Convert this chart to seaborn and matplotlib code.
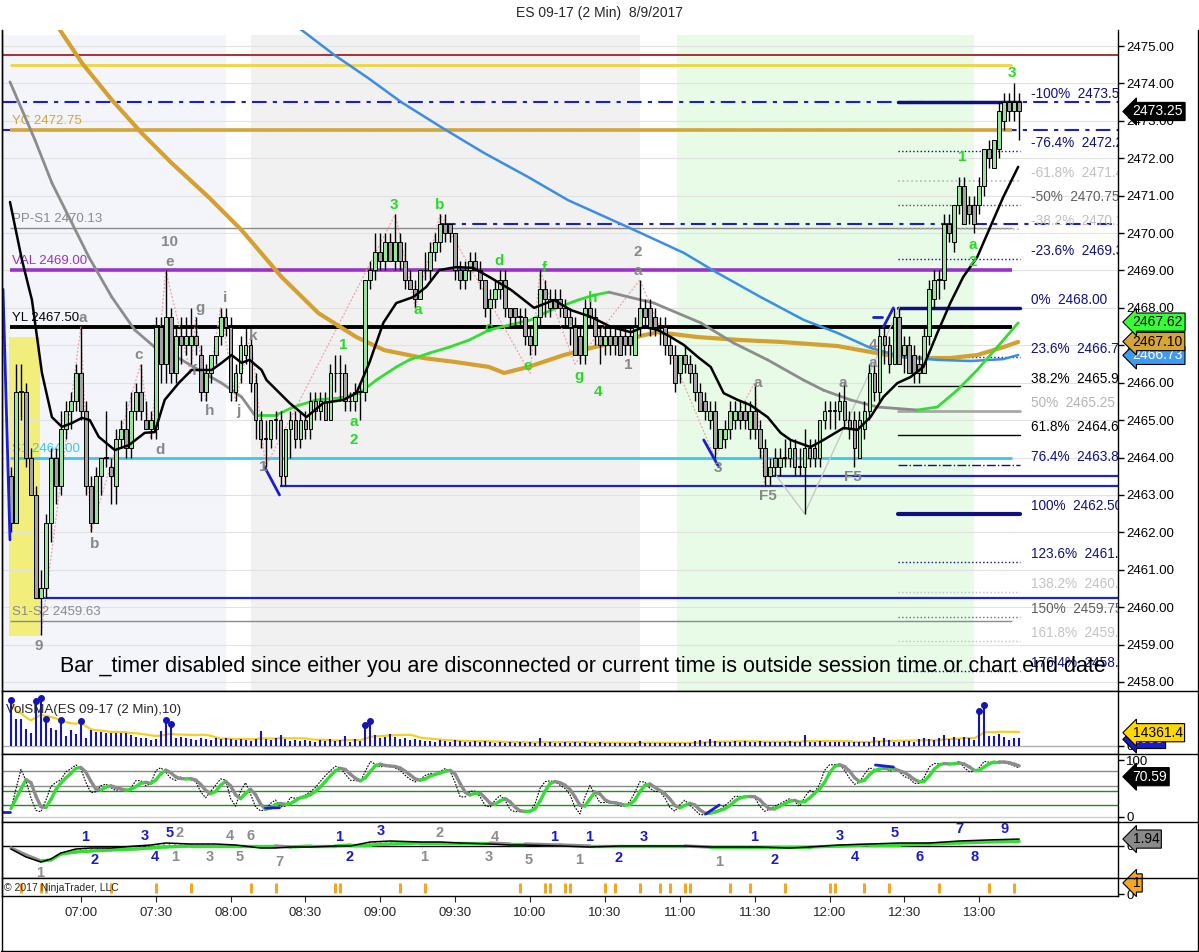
import numpy as np
import pandas as pd
import matplotlib
matplotlib.use("Agg")
import matplotlib.pyplot as plt
import seaborn as sns
from matplotlib.collections import LineCollection
from matplotlib.lines import Line2D
from matplotlib.transforms import blended_transform_factory

sns.set_style("white")
plt.rcParams['font.family'] = ['Liberation Sans', 'DejaVu Sans']
plt.rcParams['hatch.linewidth'] = 1.0

# ------------------------------------------------------------------ DATA
chart_title = "ES 09-17 (2 Min)  8/9/2017"
first_bar_time = "06:32"
bar_minutes = 2

bar_open = [
    2463.5, 2462.25, 2465.75, 2465.75, 2464.0, 2463.0, 2460.25, 2460.5, 2462.25, 2464.0,
    2463.25, 2464.75, 2465.25, 2465.5, 2466.25, 2465.25, 2463.25, 2462.25, 2463.5, 2464.0,
    2463.75, 2463.25, 2464.5, 2464.75, 2464.25, 2465.25, 2465.75, 2465.0, 2464.75, 2464.75,
    2467.5, 2466.5, 2467.75, 2466.25, 2467.25, 2467.0, 2467.0, 2467.25, 2466.75, 2465.75,
    2466.25, 2466.75, 2467.25, 2467.75, 2467.5, 2465.75, 2466.25, 2466.75, 2467.0, 2466.0,
    2465.0, 2464.5, 2464.5, 2465.0, 2465.0, 2463.5, 2464.75, 2465.0, 2464.5, 2465.0,
    2464.75, 2465.5, 2465.25, 2465.5, 2465.0, 2466.25, 2466.25, 2466.25, 2465.5, 2465.5,
    2465.75, 2465.75, 2468.75, 2469.0, 2469.5, 2469.25, 2469.75, 2469.25, 2469.75, 2469.25,
    2468.75, 2468.5, 2468.25, 2469.0, 2469.0, 2469.5, 2469.75, 2470.25, 2470.25, 2470.0,
    2469.0, 2468.75, 2469.0, 2469.25, 2469.0, 2468.75, 2468.0, 2468.25, 2468.5, 2468.75,
    2468.0, 2468.0, 2467.75, 2467.75, 2467.25, 2467.0, 2467.75, 2468.5, 2468.0, 2468.25,
    2468.25, 2468.0, 2467.75, 2467.5, 2467.25, 2466.75, 2468.0, 2467.75, 2467.25, 2467.0,
    2467.25, 2467.25, 2467.25, 2467.25, 2467.25, 2466.75, 2467.5, 2468.0, 2468.0, 2467.75,
    2467.5, 2467.5, 2467.0, 2466.75, 2466.25, 2466.75, 2466.5, 2466.25, 2465.75, 2465.5,
    2465.0, 2465.25, 2464.25, 2464.5, 2464.75, 2465.0, 2465.25, 2465.25, 2464.75, 2465.25,
    2464.75, 2464.25, 2463.5, 2464.0, 2463.75, 2464.0, 2464.0, 2464.25, 2463.75, 2463.75,
    2464.25, 2464.25, 2464.0, 2465.0, 2465.25, 2465.25, 2465.25, 2465.5, 2465.0, 2465.0,
    2464.0, 2464.75, 2465.25, 2466.25, 2465.75, 2467.25, 2467.0, 2466.5, 2467.75, 2466.75,
    2467.0, 2466.75, 2466.5, 2466.25, 2467.25, 2468.25, 2468.75, 2468.75, 2470.25, 2469.75,
    2470.75, 2471.25, 2470.75, 2470.75, 2470.75, 2471.25, 2472.25, 2471.75, 2472.25, 2473.0,
    2473.5, 2473.25, 2473.5]
bar_high = [
    2463.75, 2466.5, 2466.5, 2466.0, 2464.25, 2463.25, 2461.0, 2462.5, 2464.25, 2464.25,
    2465.25, 2465.5, 2465.75, 2466.5, 2467.5, 2465.5, 2463.5, 2463.75, 2464.0, 2465.25,
    2464.0, 2464.75, 2465.0, 2465.5, 2465.75, 2466.0, 2466.5, 2465.5, 2465.25, 2467.75,
    2467.75, 2469.0, 2468.0, 2467.5, 2467.75, 2467.75, 2468.0, 2467.75, 2467.0, 2466.5,
    2466.75, 2467.25, 2468.0, 2468.0, 2467.75, 2466.5, 2467.25, 2467.5, 2467.25, 2466.25,
    2465.25, 2465.0, 2465.0, 2465.25, 2465.25, 2464.75, 2465.25, 2465.25, 2465.25, 2465.25,
    2465.75, 2465.75, 2465.75, 2465.75, 2466.5, 2466.75, 2466.75, 2466.5, 2465.75, 2466.0,
    2466.0, 2468.75, 2469.25, 2470.0, 2470.0, 2470.0, 2470.0, 2470.5, 2470.0, 2469.75,
    2469.0, 2468.75, 2469.0, 2469.5, 2469.75, 2470.0, 2470.5, 2470.5, 2470.25, 2470.0,
    2469.25, 2469.25, 2469.5, 2469.5, 2469.25, 2468.75, 2468.5, 2468.75, 2469.0, 2469.0,
    2468.0, 2468.0, 2468.0, 2468.0, 2467.5, 2467.75, 2469.0, 2468.75, 2468.5, 2468.5,
    2468.5, 2468.25, 2468.0, 2467.75, 2467.5, 2468.25, 2468.25, 2468.0, 2467.5, 2467.5,
    2467.5, 2467.5, 2467.5, 2467.5, 2467.5, 2467.75, 2468.75, 2468.25, 2468.25, 2468.0,
    2467.75, 2467.75, 2467.25, 2467.0, 2466.75, 2467.0, 2466.75, 2466.5, 2466.0, 2465.75,
    2465.5, 2465.5, 2464.75, 2465.0, 2465.5, 2465.5, 2465.5, 2465.5, 2465.5, 2466.0,
    2465.0, 2464.5, 2464.0, 2464.25, 2464.25, 2464.5, 2464.5, 2464.5, 2464.25, 2464.75,
    2464.5, 2464.5, 2465.0, 2465.5, 2465.5, 2465.5, 2465.75, 2466.0, 2465.25, 2465.25,
    2465.25, 2465.5, 2466.5, 2466.5, 2467.5, 2467.5, 2467.25, 2468.0, 2468.0, 2467.25,
    2467.25, 2467.0, 2466.75, 2467.5, 2468.75, 2469.0, 2469.0, 2470.5, 2470.5, 2470.75,
    2471.5, 2471.5, 2471.0, 2471.0, 2471.5, 2472.25, 2472.5, 2472.5, 2473.5, 2473.75,
    2473.75, 2474.0, 2473.75]
bar_low = [
    2462.0, 2462.25, 2465.0, 2463.75, 2463.0, 2460.25, 2459.25, 2460.25, 2461.75, 2462.75,
    2463.0, 2464.5, 2464.75, 2465.25, 2465.0, 2463.0, 2462.0, 2462.25, 2463.0, 2463.75,
    2462.75, 2462.75, 2464.25, 2464.0, 2464.0, 2465.0, 2465.0, 2464.75, 2464.5, 2464.5,
    2466.0, 2466.0, 2466.0, 2466.0, 2466.5, 2466.75, 2466.5, 2466.75, 2465.5, 2465.5,
    2466.0, 2466.5, 2467.0, 2467.25, 2465.5, 2465.5, 2466.0, 2466.5, 2465.75, 2464.5,
    2464.25, 2463.75, 2464.25, 2464.5, 2463.25, 2463.25, 2464.0, 2464.25, 2464.25, 2464.5,
    2464.5, 2465.0, 2465.0, 2465.0, 2465.0, 2465.75, 2465.5, 2465.25, 2465.25, 2465.25,
    2465.0, 2465.5, 2468.5, 2468.75, 2469.0, 2469.0, 2469.25, 2469.0, 2469.0, 2468.5,
    2468.5, 2468.0, 2468.25, 2468.75, 2468.75, 2469.25, 2469.5, 2469.75, 2469.75, 2468.75,
    2468.5, 2468.5, 2468.75, 2469.0, 2468.5, 2467.75, 2467.5, 2468.0, 2468.25, 2467.75,
    2467.5, 2467.5, 2467.5, 2467.0, 2466.75, 2466.75, 2467.5, 2467.75, 2467.75, 2468.0,
    2467.75, 2467.5, 2467.0, 2466.75, 2466.5, 2466.5, 2467.5, 2467.0, 2466.5, 2466.75,
    2466.75, 2466.75, 2466.75, 2466.75, 2466.75, 2466.75, 2467.25, 2467.5, 2467.25, 2467.25,
    2467.0, 2466.75, 2466.5, 2465.75, 2466.0, 2466.25, 2466.0, 2465.5, 2465.25, 2465.0,
    2464.75, 2464.0, 2464.25, 2464.25, 2464.5, 2464.75, 2464.75, 2464.75, 2464.5, 2464.5,
    2464.0, 2463.25, 2463.25, 2463.5, 2463.5, 2463.75, 2463.75, 2463.5, 2463.5, 2462.5,
    2463.75, 2463.75, 2463.75, 2464.75, 2464.75, 2464.75, 2465.0, 2464.75, 2464.5, 2463.75,
    2464.0, 2464.5, 2465.0, 2465.5, 2465.5, 2466.5, 2466.25, 2466.5, 2466.5, 2466.25,
    2466.25, 2466.0, 2466.0, 2466.25, 2467.0, 2468.0, 2468.25, 2468.5, 2469.75, 2469.5,
    2470.5, 2470.25, 2470.25, 2470.0, 2470.5, 2471.0, 2471.75, 2471.75, 2472.0, 2472.75,
    2473.0, 2473.0, 2472.5]
bar_close = [
    2462.25, 2465.75, 2465.75, 2464.0, 2463.0, 2460.25, 2460.5, 2462.25, 2464.0, 2463.25,
    2464.75, 2465.25, 2465.5, 2466.25, 2465.25, 2463.25, 2462.25, 2463.5, 2464.0, 2464.0,
    2463.5, 2464.5, 2464.75, 2464.25, 2465.25, 2465.75, 2465.25, 2464.75, 2465.0, 2467.5,
    2466.5, 2467.75, 2466.25, 2467.25, 2467.0, 2467.25, 2467.25, 2467.0, 2465.75, 2466.25,
    2466.75, 2467.25, 2467.75, 2467.5, 2465.75, 2466.25, 2467.0, 2467.0, 2466.0, 2465.0,
    2464.5, 2464.5, 2465.0, 2465.0, 2463.5, 2464.75, 2465.0, 2464.5, 2465.0, 2464.75,
    2465.5, 2465.25, 2465.5, 2465.0, 2466.25, 2466.25, 2466.25, 2465.5, 2465.5, 2465.75,
    2465.75, 2468.75, 2469.0, 2469.5, 2469.25, 2469.75, 2469.25, 2469.75, 2469.25, 2468.75,
    2468.5, 2468.25, 2469.0, 2469.0, 2469.5, 2469.75, 2470.25, 2470.0, 2470.0, 2469.0,
    2468.75, 2469.0, 2469.25, 2469.0, 2468.75, 2468.0, 2468.25, 2468.5, 2468.75, 2468.0,
    2467.75, 2467.75, 2467.75, 2467.25, 2467.0, 2467.75, 2468.5, 2468.25, 2468.25, 2468.0,
    2468.0, 2467.75, 2467.5, 2466.75, 2466.75, 2468.0, 2467.75, 2467.25, 2467.0, 2467.25,
    2467.0, 2467.0, 2466.75, 2467.0, 2467.0, 2467.5, 2468.0, 2467.75, 2467.5, 2467.5,
    2467.5, 2467.0, 2466.75, 2466.0, 2466.75, 2466.5, 2466.25, 2465.75, 2465.25, 2465.25,
    2465.25, 2464.25, 2464.75, 2464.75, 2465.25, 2465.25, 2465.0, 2465.0, 2465.25, 2464.75,
    2464.25, 2463.5, 2463.75, 2463.75, 2464.0, 2464.0, 2464.25, 2463.75, 2463.75, 2464.25,
    2464.0, 2464.0, 2465.0, 2465.25, 2465.25, 2465.25, 2465.5, 2465.0, 2464.75, 2464.25,
    2465.0, 2465.25, 2466.25, 2465.75, 2467.25, 2467.0, 2466.5, 2467.75, 2466.5, 2467.0,
    2466.25, 2466.25, 2466.25, 2467.25, 2468.5, 2468.75, 2468.75, 2470.25, 2470.0, 2470.75,
    2471.25, 2470.25, 2470.5, 2470.25, 2471.25, 2472.25, 2472.0, 2472.5, 2473.25, 2473.5,
    2473.25, 2473.5, 2473.25]
volume = [
    47500, 29200, 29200, 18400, 14000, 46400, 49700, 27000, 19400, 17300,
    25900, 10800, 17300, 13000, 24800, 8600, 17300, 15100, 15100, 14000,
    14000, 14000, 14000, 14000, 11900, 9700, 8600, 8600, 6500, 7600,
    16200, 25900, 21600, 8600, 9700, 8600, 7600, 6500, 8600, 7600,
    6500, 8600, 7600, 8600, 7600, 6500, 7600, 6500, 5400, 7600,
    16200, 7600, 6500, 8600, 11900, 7600, 5400, 6500, 5400, 6500,
    5400, 4300, 6500, 5400, 7600, 5400, 6500, 10800, 4300, 7600,
    5400, 20500, 24800, 11900, 8600, 9700, 13000, 9700, 7600, 8600,
    6500, 7600, 6500, 5400, 5400, 4300, 6500, 5400, 4300, 6500,
    5400, 4300, 4300, 5400, 4300, 5400, 4300, 3200, 4300, 3200,
    4300, 3200, 4300, 3200, 4300, 3200, 8600, 3200, 4300, 3200,
    3200, 4300, 3200, 4300, 3200, 4300, 3200, 3200, 4300, 3200,
    3200, 3200, 3200, 3200, 3200, 3200, 5400, 3200, 3200, 3200,
    3200, 3200, 3200, 3200, 3200, 3200, 3200, 5400, 6500, 4300,
    7600, 5400, 4300, 4300, 4300, 5400, 4300, 5400, 4300, 4300,
    5400, 4300, 4300, 4300, 4300, 4300, 5400, 4300, 4300, 11900,
    4300, 4300, 5400, 4300, 4300, 4300, 4300, 4300, 4300, 4300,
    4300, 4300, 4300, 9700, 5400, 8600, 6500, 4300, 4300, 5400,
    5400, 4300, 7600, 8600, 7600, 6500, 8600, 11900, 7600, 9700,
    7600, 9700, 8600, 6500, 35600, 42100, 10800, 10800, 13000, 9700,
    6500, 8600, 8600]
volume_dot_bars = [0, 5, 6, 7, 10, 14, 31, 32, 71, 72, 194, 195]
signal_bars = [2, 6, 7, 20, 29, 36, 48, 53, 65, 66, 78, 83, 102, 107, 108, 111, 112,
               119, 121, 126, 130, 132, 135, 136, 144, 148, 155, 164, 165, 171, 176,
               186, 196, 201]

time_labels = ["07:00", "07:30", "08:00", "08:30", "09:00", "09:30", "10:00",
               "10:30", "11:00", "11:30", "12:00", "12:30", "13:00"]
price_ticks = list(range(2458, 2476))

# moving averages (bar position, price)
fast_ma_bar = [-0.2, 2.2, 4.2, 6.2, 8.2, 10.2, 12.2, 14.2, 15.8, 17.6, 20.8, 23.6, 26.8, 28.8,
               30.8, 33.6, 36.2, 40.2, 42.2, 44.2, 46.2, 47.8, 50.2, 51.2, 55.8, 59.2, 62.6,
               66.6, 69.2, 71.8, 74.6, 77.2, 80.6, 83.2, 85.8, 89.2, 92.6, 95.8, 99.2, 100.2,
               104.8, 108.8, 112.2, 116.2, 120.2, 124.2, 126.8, 129.6, 132.2, 134.8, 137.6,
               140.2, 142.8, 145.6, 148.2, 151.6, 154.2, 156.2, 160.2, 162.8, 166.8, 169.6,
               172.2, 174.8, 177.6, 180.2, 182.8, 185.6, 188.2, 190.8, 193.6, 196.2, 198.8, 201.8]
fast_ma_val = [2470.83, 2469.28, 2468.21, 2466.26, 2465.08, 2464.82, 2464.92, 2465.06, 2465.0,
               2464.55, 2464.20, 2464.33, 2464.66, 2464.68, 2465.54, 2465.99, 2466.34, 2466.34,
               2466.53, 2466.74, 2466.53, 2466.61, 2466.34, 2466.07, 2465.46, 2465.08, 2465.46,
               2465.54, 2465.72, 2466.53, 2467.60, 2468.13, 2468.29, 2468.56, 2469.01, 2469.09,
               2469.07, 2468.83, 2468.56, 2468.48, 2468.0, 2468.21, 2467.94, 2467.76, 2467.49,
               2467.35, 2467.49, 2467.41, 2467.22, 2467.01, 2466.69, 2466.42, 2465.72, 2465.54,
               2465.40, 2465.08, 2464.66, 2464.47, 2464.28, 2464.47, 2464.79, 2464.74, 2465.08,
               2465.62, 2465.99, 2466.15, 2466.42, 2467.33, 2468.13, 2468.83, 2469.36, 2470.16,
               2470.96, 2471.77]
slow_ma_bar = [-0.2, 4.8, 8.2, 11.6, 15.6, 20.2, 24.8, 28.8, 34.2, 38.2, 42.2, 46.2, 48.8, 53.2,
               56.6, 61.2, 65.8, 69.8, 73.2, 77.2, 79.8, 83.8, 87.8, 91.8, 95.8, 99.8, 104.2,
               108.2, 113.6, 116.8, 119.8, 128.8, 138.2, 144.8, 151.6, 158.8, 162.8, 168.2,
               173.6, 181.6, 185.6, 189.6, 193.6, 197.6, 201.8]
slow_ma_val = [2474.04, 2472.49, 2471.34, 2470.43, 2469.36, 2468.29, 2467.41, 2466.95, 2466.61,
               2466.29, 2465.99, 2465.62, 2465.14, 2465.14, 2465.35, 2465.54, 2465.59, 2465.72,
               2466.07, 2466.42, 2466.61, 2466.79, 2466.95, 2467.14, 2467.41, 2467.54, 2467.68,
               2467.94, 2468.21, 2468.34, 2468.42, 2468.13, 2467.60, 2467.06, 2466.61, 2466.07,
               2465.80, 2465.54, 2465.35, 2465.27, 2465.35, 2465.80, 2466.34, 2466.95, 2467.60]
gold_ma_bar = [6.2, 9.8, 14.2, 20.2, 26.2, 32.2, 39.6, 46.2, 54.2, 61.6, 69.2, 74.8, 82.6, 89.2,
               95.8, 98.8, 103.6, 110.8, 116.2, 121.6, 126.8, 129.6, 137.6, 146.2, 154.2, 165.6,
               175.6, 182.2, 188.2, 193.6, 198.8, 201.8]
gold_ma_val = [2476.1, 2475.43, 2474.55, 2473.56, 2472.67, 2471.87, 2470.96, 2470.08, 2468.83,
               2467.86, 2467.22, 2466.87, 2466.66, 2466.55, 2466.42, 2466.26, 2466.42, 2466.74,
               2466.93, 2467.09, 2467.27, 2467.35, 2467.22, 2467.14, 2467.09, 2466.98, 2466.74,
               2466.66, 2466.66, 2466.74, 2466.95, 2467.09]
blue_ma_bar = [54.2, 58.2, 64.8, 71.6, 78.2, 86.2, 94.8, 103.6, 111.6, 119.6, 126.2, 134.8, 141.6,
               150.2, 158.8, 165.6, 172.2, 178.8, 185.6, 192.2, 198.8, 201.8]
blue_ma_val = [2475.75, 2475.43, 2474.76, 2474.14, 2473.50, 2472.83, 2472.14, 2471.50, 2470.88,
               2470.40, 2470.0, 2469.47, 2468.93, 2468.29, 2467.68, 2467.33, 2466.93, 2466.69,
               2466.61, 2466.58, 2466.63, 2466.74]

# named levels
level_names = ["YC", "PP-S1", "VAL", "YL", "S1", "S1-S2"]
level_prices = [2472.75, 2470.13, 2469.00, 2467.50, 2464.00, 2459.63]
red_level = 2474.75
yellow_level = 2474.50
dashdot_levels = [2473.50, 2472.75, 2470.25]
blue_levels = [2463.50, 2463.25, 2460.25]

fib_pct = ["-100%", "-76.4%", "-61.8%", "-50%", "-38.2%", "-23.6%", "0%", "23.6%", "38.2%",
           "50%", "61.8%", "76.4%", "100%", "123.6%", "138.2%", "150%", "161.8%", "176.4%"]
fib_price = [2473.50, 2472.20, 2471.40, 2470.75, 2470.10, 2469.30, 2468.00, 2466.70, 2465.90,
             2465.25, 2464.60, 2463.80, 2462.50, 2461.20, 2460.40, 2459.75, 2459.10, 2458.30]

# wave-count labels (text, bar, price)
gray_wave = [("10", 31.8, 2469.76), ("e", 31.8, 2469.23), ("a", 14.4, 2467.73), ("c", 25.6, 2466.74),
             ("g", 37.8, 2468.0), ("i", 42.8, 2468.26), ("k", 48.6, 2467.25), ("f", 36.8, 2466.31),
             ("h", 39.8, 2465.24), ("j", 45.6, 2465.24), ("d", 29.8, 2464.20), ("b", 16.8, 2461.69),
             ("9", 5.6, 2458.96), ("1", 50.6, 2463.75), ("2", 125.6, 2469.49), ("a", 125.6, 2468.99),
             ("1", 123.6, 2466.47), ("3", 141.6, 2463.72), ("a", 149.6, 2465.99), ("F5", 151.6, 2462.97),
             ("a", 166.6, 2465.99), ("F5", 168.6, 2463.48), ("4", 172.8, 2467.01), ("a", 172.6, 2466.53)]
green_wave = [("3", 76.8, 2470.75), ("b", 85.8, 2470.75), ("1", 66.6, 2467.01), ("a", 68.6, 2464.95),
              ("2", 68.6, 2464.47), ("a", 81.4, 2467.94), ("d", 97.8, 2469.25), ("f", 106.8, 2469.07),
              ("h", 116.6, 2468.26), ("c", 95.6, 2467.46), ("e", 103.6, 2466.45), ("g", 113.8, 2466.18),
              ("4", 117.6, 2465.75), ("1", 190.6, 2472.03), ("a", 192.6, 2469.68), ("2", 192.6, 2469.23),
              ("3", 200.6, 2474.28)]
zigzag_bar = [6, 14, 16, 26, 28, 31, 36, 37, 39, 42, 45, 48, 51, 77, 81, 86, 104, 106, 113, 126,
              141, 149, 151]
zigzag_price = [2459.25, 2467.5, 2462.0, 2466.5, 2464.5, 2469.0, 2466.25, 2467.75, 2465.5, 2468.0,
                2465.5, 2467.25, 2463.75, 2470.5, 2468.0, 2470.5, 2466.25, 2469.0, 2466.5, 2468.75,
                2464.0, 2466.0, 2463.25]
swing2_bar = [152, 159, 178]
swing2_price = [2463.75, 2462.5, 2468.0]

# MACD panel
macd_bar = [0, 3, 6, 8, 10, 13, 16, 20, 25, 28, 31, 36, 41, 45, 50, 53, 56, 60, 65, 68, 72, 76, 82,
            86, 90, 96, 100, 103, 110, 116, 122, 128, 135, 140, 150, 156, 160, 166, 172, 178, 184,
            190, 196, 202]
macd_val = [-0.84, -3.08, -4.48, -3.64, -1.96, -0.84, -0.56, -0.56, 0.0, 0.28, 0.84, 0.56, 0.56, 0.28,
            -0.56, -0.56, -0.28, -0.28, 0.0, 0.0, 1.12, 1.4, 1.12, 1.12, 0.84, 0.56, 0.28, 0.28, 0.0,
            -0.28, 0.0, 0.0, 0.0, -0.28, -0.28, -0.56, -0.28, 0.28, 0.56, 0.84, 0.84, 1.4, 1.7, 1.94]
signal_val = [-0.56, -2.52, -4.2, -3.92, -2.24, -1.68, -1.4, -1.12, -0.84, -0.56, -0.28, 0.0, 0.0,
              0.0, 0.0, 0.0, -0.28, 0.0, 0.0, 0.28, 0.28, 0.56, 0.84, 0.84, 0.84, 0.84, 0.56, 0.56,
              0.28, 0.0, 0.0, 0.0, 0.0, -0.28, -0.28, -0.28, -0.28, 0.0, 0.28, 0.28, 0.56, 0.84,
              1.12, 1.3]
macd_blue_labels = [("1", 14.8, 2.52), ("2", 16.8, -3.92), ("3", 26.9, 2.8), ("4", 28.8, -3.08),
                    ("5", 31.8, 3.64), ("1", 65.8, 2.52), ("2", 67.8, -3.08), ("3", 74, 4.2),
                    ("1", 108.8, 2.52), ("1", 115.8, 2.52), ("2", 121.8, -3.36), ("3", 126.8, 2.52),
                    ("1", 148.8, 2.52), ("2", 153, -3.92), ("3", 166, 2.8), ("4", 169, -3.08),
                    ("5", 177, 3.64), ("6", 182, -3.08), ("7", 190, 4.76), ("8", 193, -3.08),
                    ("9", 199, 4.76)]
macd_gray_labels = [("2", 33.8, 3.64), ("1", 32.8, -3.08), ("3", 39.9, -3.08), ("4", 43.9, 2.8),
                    ("5", 45.9, -3.08), ("6", 48, 2.8), ("7", 53.8, -4.48), ("1", 5.8, -7.56),
                    ("1", 82.8, -3.08), ("2", 85.8, 3.64), ("3", 95.8, -3.08), ("4", 97, 2.52),
                    ("5", 103.8, -3.92), ("1", 113.8, -3.92), ("1", 141.9, -4.48)]

stoch_period = 14
last_price = 2473.25
tag_fast, tag_gold, tag_blue = 2467.62, 2467.10, 2466.73
vol_sma_tag = 14361.4
stoch_tag = 70.59
macd_tag = 1.94

shade_spans = [("06:28", "07:58"), ("08:08", "10:44"), ("10:59", "12:58")]
timer_text = ("Bar _timer disabled since either you are disconnected or current time is "
              "outside session time or chart end date")

assert len(bar_open) == len(bar_high) == len(bar_low) == len(bar_close) == len(volume)


# ------------------------------------------------------------------ HELPERS
def hm(s):
    h, m = s.split(":")
    return int(h) * 60 + int(m)


def bar_of(s):
    return (hm(s) - hm(first_bar_time)) / bar_minutes


W, H = 1199, 952
fig = plt.figure(figsize=(W / 100, H / 100), dpi=100)


def rect(x0, y0, x1, y1):
    return [x0 / W, 1 - y1 / H, (x1 - x0) / W, (y1 - y0) / H]


XL = (-1.8, 221.8)
ax = fig.add_axes(rect(2, 30, 1118, 691))
ax_vol = fig.add_axes(rect(2, 691, 1118, 754))
ax_sto = fig.add_axes(rect(2, 754, 1118, 822))
ax_macd = fig.add_axes(rect(2, 822, 1118, 878))
ax_sig = fig.add_axes(rect(2, 878, 1118, 896))

for a in (ax, ax_vol, ax_sto, ax_macd, ax_sig):
    a.set_xlim(*XL)
    a.set_facecolor('white')
    for s in a.spines.values():
        s.set_color('black')
        s.set_linewidth(1.0)
    a.spines['top'].set_visible(False)
    a.yaxis.tick_right()
    a.tick_params(axis='y', which='both', right=True, left=False, direction='out', length=4,
                  width=1, labelsize=9.5, pad=2, colors='black')
    a.tick_params(axis='x', bottom=False, labelbottom=False)

nbar = len(bar_close)
kk = np.arange(nbar)
o = np.array(bar_open); c = np.array(bar_close)
hi = np.array(bar_high); lo = np.array(bar_low)

# ------------------------------------------------------------------ MAIN PANEL
ax.set_ylim(2457.759, 2475.428)
ax.set_yticks(price_ticks)
ax.set_yticklabels([f"{v:.2f}" for v in price_ticks])
ax.grid(axis='y', color='#e2e2e2', lw=0.8, zorder=0)
ax.set_axisbelow(True)

shade_cols = ['#f3f5fa', '#f1f1f1', '#e7fbe7']
for (t0, t1), col in zip(shade_spans, shade_cols):
    ax.fill_between([bar_of(t0), bar_of(t1)], 2457.0, 2475.3, color=col, zorder=0.1, lw=0)
ax.fill_between([-0.4, 5.8], 2459.23, 2467.22, color='#f2ee7c', zorder=0.2, lw=0)

LX0, LX1 = -0.2, 200.6
ax.hlines(red_level, XL[0], XL[1], color='#a83232', lw=1.4, zorder=1)
ax.hlines(yellow_level, LX0, LX1, color='#f2d43a', lw=2.0, zorder=1)
dd_starts = [XL[0], XL[0], 86.2]
for p, x0 in zip(dashdot_levels, dd_starts):
    ax.plot([x0, XL[1]], [p, p], color='#1c1cd0', lw=1.5, dashes=(7, 3, 2, 3), zorder=1.2)
lev_style = {"YC": ('#d4a537', 2.6, '#d4a537'), "PP-S1": ('#8a8a8a', 1.0, '#8a8a8a'),
             "VAL": ('#9a32c8', 2.6, '#9a32c8'), "YL": ('black', 2.8, 'black'),
             "S1": ('#3cc6f0', 2.0, '#3cc6f0'), "S1-S2": ('#8a8a8a', 1.0, '#8a8a8a')}
for name, p in zip(level_names, level_prices):
    col, lw, tcol = lev_style[name]
    ax.hlines(p, LX0, LX1, color=col, lw=lw, zorder=1.5)
    ax.text(0.2, p + 0.08, f"{name} {p:.2f}", color=tcol, fontsize=9.5, va='bottom', ha='left',
            zorder=2)
blue_starts = [151.6, 53.8, 4.8]
for p, x0 in zip(blue_levels, blue_starts):
    ax.hlines(p, x0, XL[1], color='#2222cc', lw=1.6, zorder=1.5)

# fib levels
navy = '#101080'
fib_style = {"-100%": (navy, 2.5, '-', navy), "-76.4%": (navy, 1.0, ':', navy),
             "-61.8%": ('#b8b8b8', 1.2, ':', '#c0c0c0'), "-50%": ('#505050', 1.0, ':', '#606060'),
             "-38.2%": ('#b8b8b8', 1.2, ':', '#c0c0c0'), "-23.6%": (navy, 1.0, ':', navy),
             "0%": (navy, 2.5, '-', navy), "23.6%": (navy, 1.0, ':', navy),
             "38.2%": ('black', 1.0, '-', 'black'), "50%": ('#a8a8a8', 2.0, '-', '#b4b4b4'),
             "61.8%": ('black', 1.0, '-', 'black'), "76.4%": (navy, 1.0, '-.', navy),
             "100%": (navy, 3.0, '-', navy), "123.6%": (navy, 1.0, ':', navy),
             "138.2%": ('#c0c0c0', 1.0, ':', '#c4c4c4'), "150%": ('#707070', 1.0, ':', '#606060'),
             "161.8%": ('#c0c0c0', 1.0, ':', '#c4c4c4'), "176.4%": (navy, 1.0, ':', navy)}
for pct, p in zip(fib_pct, fib_price):
    col, lw, ls, tcol = fib_style[pct]
    ax.plot([177.8, 202.2], [p, p], color=col, lw=lw, ls=ls, zorder=1.6)
    ax.text(204.4, p + 0.21, f"{pct}  {p:.2f}", color=tcol, fontsize=9.8, va='center', ha='left',
            clip_on=True, zorder=2)

# zigzags
ax.plot(zigzag_bar, zigzag_price, color='#f0a0a0', lw=0.9, ls=(0, (1.5, 1.5)), zorder=2)
ax.plot(swing2_bar, swing2_price, color='#c8c8c8', lw=1.0, zorder=2)

# moving averages
sns.lineplot(x=gold_ma_bar, y=gold_ma_val, ax=ax, color='#d4a030', lw=3.0, sort=False,
             estimator=None, zorder=3)
sns.lineplot(x=blue_ma_bar, y=blue_ma_val, ax=ax, color='#3a8ee6', lw=1.8, sort=False,
             estimator=None, zorder=3)


def slope_colored(a, xs, ys, up, down, lw, z, flat_up=True):
    xs = np.asarray(xs, float); ys = np.asarray(ys, float)
    pts = np.column_stack([xs, ys])
    segs = np.stack([pts[:-1], pts[1:]], axis=1)
    cols = [up if (ys[i + 1] > ys[i] or (flat_up and ys[i + 1] == ys[i])) else down
            for i in range(len(ys) - 1)]
    a.add_collection(LineCollection(segs, colors=cols, linewidths=lw, zorder=z,
                                    capstyle='round', joinstyle='round'))


slope_colored(ax, slow_ma_bar, slow_ma_val, '#33dd33', '#8c8c8c', 2.0, 3.2)

# candles
up = c >= o
body_lo = np.minimum(o, c)
body_h = np.abs(c - o)
ax.vlines(kk, lo, hi, color='black', lw=1.0, zorder=4)
ax.bar(kk[up], np.maximum(body_h[up], 0.02), bottom=body_lo[up], width=0.76, color='#98e498',
       edgecolor='black', lw=0.7, zorder=5)
ax.bar(kk[~up], body_h[~up], bottom=body_lo[~up], width=0.76, color='#a2a2a2',
       edgecolor='black', lw=0.7, zorder=5)

sns.lineplot(x=fast_ma_bar, y=fast_ma_val, ax=ax, color='black', lw=1.8, sort=False,
             estimator=None, zorder=6)

# blue divergence strokes
for (x0, y0, x1, y1) in [(-1.6, 2468.5, -0.2, 2461.8), (50.8, 2463.75, 53.8, 2463.0),
                         (138.8, 2464.47, 141.8, 2463.75), (172.8, 2467.76, 174.6, 2467.76),
                         (174.8, 2467.49, 176.8, 2468.0)]:
    ax.plot([x0, x1], [y0, y1], color='#1c1cd0', lw=2.0, zorder=6)

for t, b, p in gray_wave:
    ax.text(b, p, t, color='#888888', fontsize=11, fontweight='bold', ha='center', va='center',
            zorder=7)
for t, b, p in green_wave:
    ax.text(b, p, t, color='#22dd22', fontsize=11, fontweight='bold', ha='center', va='center',
            zorder=7)

ax.text(9.8, 2458.42, timer_text, fontsize=15.5, color='black', ha='left', va='center', zorder=8)


def tag(a, y, text, fc, tc):
    t = blended_transform_factory(a.transAxes, a.transData)
    a.text(1.013, y, text, transform=t, ha='left', va='center', fontsize=10, color=tc,
           bbox=dict(boxstyle='larrow,pad=0.15', fc=fc, ec='black', lw=0.8), clip_on=False,
           zorder=30)


tag(ax, tag_blue, f"{tag_blue:.2f}", '#3d9bf5', 'white')
tag(ax, tag_gold, f"{tag_gold:.2f}", '#d6a535', 'black')
tag(ax, tag_fast, f"{tag_fast:.2f}", '#33ff33', 'black')
tag(ax, last_price, f"{last_price:.2f}", 'black', 'white')

# ------------------------------------------------------------------ VOLUME
vol = np.array(volume, float)
ax_vol.set_ylim(-8640, 59400)
ax_vol.set_yticks([0]); ax_vol.set_yticklabels(["0"])
ax_vol.axhline(0, color='#b0b0b0', lw=1, zorder=1)
ax_vol.vlines(kk, 0, vol, color='#1515b5', lw=1.5, zorder=3)
vsma = pd.Series(vol).rolling(10, min_periods=1).mean()
sns.lineplot(x=kk, y=vsma.values, ax=ax_vol, color='#f2d21e', lw=1.6, estimator=None, zorder=2)
vd = np.array(volume_dot_bars)
ax_vol.scatter(vd, vol[vd] + 2500, s=16, color='#1515b5', zorder=4)
ax_vol.text(0.004, 0.70, "VolSMA(ES 09-17 (2 Min),10)", transform=ax_vol.transAxes, fontsize=9.5,
            va='center', ha='left', zorder=5)
tag(ax_vol, vol[-1] - 1500, f"{vol[-1]:.0f}", '#1a1ad0', 'white')
tag(ax_vol, vol_sma_tag, f"{vol_sma_tag:.1f}", '#ffd800', 'black')

# ------------------------------------------------------------------ STOCHASTICS
hh = pd.Series(hi).rolling(stoch_period, min_periods=1).max()
ll = pd.Series(lo).rolling(stoch_period, min_periods=1).min()
rng = (hh - ll).replace(0, np.nan)
raw_k = (100 * (pd.Series(c) - ll) / rng).fillna(50)
sto_k = raw_k.rolling(2, min_periods=1).mean()
sto_d = sto_k.rolling(3, min_periods=1).mean()
ax_sto.set_ylim(-9.3, 110.6)
ax_sto.set_yticks([0, 100]); ax_sto.set_yticklabels(["0", "100"])
for lvl, col in [(80, '#8a8a8a'), (55, '#8a8a8a'), (45, '#228b22'), (20, '#228b22'), (0, '#d0d0d0')]:
    ax_sto.axhline(lvl, color=col, lw=1.0, zorder=1)
sns.lineplot(x=kk, y=sto_k.values, ax=ax_sto, color='black', lw=0.8, ls=(0, (1.5, 1.2)),
             estimator=None, zorder=3)
slope_colored(ax_sto, kk, sto_d.values, '#33dd33', '#8c8c8c', 2.4, 4)
for (x0, y0, x1, y1) in [(-1.8, 8.3, -0.2, 8.3), (51, 15.3, 53.8, 15.9), (139.2, 4.8, 141.9, 20.6),
                         (173.2, 91.2, 176.8, 87.7)]:
    ax_sto.plot([x0, x1], [y0, y1], color='#1c1cd0', lw=2.0, zorder=5)
tag(ax_sto, stoch_tag, f"{stoch_tag:.2f}", 'black', 'white')

# ------------------------------------------------------------------ MACD
mb = np.array(macd_bar, float); mv = np.array(macd_val); sv = np.array(signal_val)
ax_macd.set_ylim(-8.96, 6.72)
ax_macd.set_yticks([0]); ax_macd.set_yticklabels(["0"])
ax_macd.axhline(0, color='black', lw=1.0, zorder=1)
ax_macd.fill_between(mb, mv, sv, where=mv >= sv, interpolate=True, facecolor='none',
                     edgecolor='#33cc33', hatch='|||', lw=0, zorder=2)
ax_macd.fill_between(mb, mv, sv, where=mv < sv, interpolate=True, facecolor='none',
                     edgecolor='#707070', hatch='|||', lw=0, zorder=2)
slope_colored(ax_macd, mb, sv, '#33dd33', '#8c8c8c', 2.4, 3)
sns.lineplot(x=mb, y=mv, ax=ax_macd, color='black', lw=1.1, estimator=None, zorder=4)
for t, b, v in macd_blue_labels:
    ax_macd.text(b, v, t, color='#1a1acd', fontsize=10.5, fontweight='bold', ha='center',
                 va='center', zorder=6, clip_on=True)
for t, b, v in macd_gray_labels:
    ax_macd.text(b, v, t, color='#8c8c8c', fontsize=10.5, fontweight='bold', ha='center',
                 va='center', zorder=6, clip_on=True)
tag(ax_macd, macd_tag, f"{macd_tag:.2f}", '#8a8a8a', 'black')

# ------------------------------------------------------------------ SIGNAL MARKERS
ax_sig.set_ylim(-0.18, 1.45)
ax_sig.set_yticks([0]); ax_sig.set_yticklabels(["0"])
sb = np.array(signal_bars)
ax_sig.vlines(sb, 0.1, 1.0, color='#f5a623', lw=2.2, zorder=2)
ax_sig.text(0.002, 0.45, "\u00a9 2017 NinjaTrader, LLC", transform=ax_sig.transAxes, fontsize=7.5,
            va='center', ha='left', zorder=3)
tag(ax_sig, 1.0, "1", '#f5a623', 'black')
tick_pos = [bar_of(t) for t in time_labels]
ax_sig.set_xticks(tick_pos)
ax_sig.set_xticklabels(time_labels)
ax_sig.tick_params(axis='x', bottom=True, labelbottom=True, direction='out', length=4,
                   labelsize=9.5, pad=4)

# ------------------------------------------------------------------ FRAME / TITLE
fig.text(600 / W, 1 - 13 / H, chart_title, ha='center', va='center', fontsize=10)
for yy in (691, 754, 822, 878):
    fig.add_artist(Line2D([2 / W, 1198 / W], [1 - yy / H, 1 - yy / H], color='black', lw=1.0))
fig.add_artist(Line2D([1198 / W, 1198 / W], [1 - 30 / H, 1 - 951 / H], color='black', lw=1.0))
fig.add_artist(Line2D([1 / W, 1198 / W], [1 - 951 / H, 1 - 951 / H], color='black', lw=1.0))
fig.add_artist(Line2D([2 / W, 2 / W], [1 - 30 / H, 1 - 951 / H], color='black', lw=1.0))

fig.savefig("out.png", dpi=100)
